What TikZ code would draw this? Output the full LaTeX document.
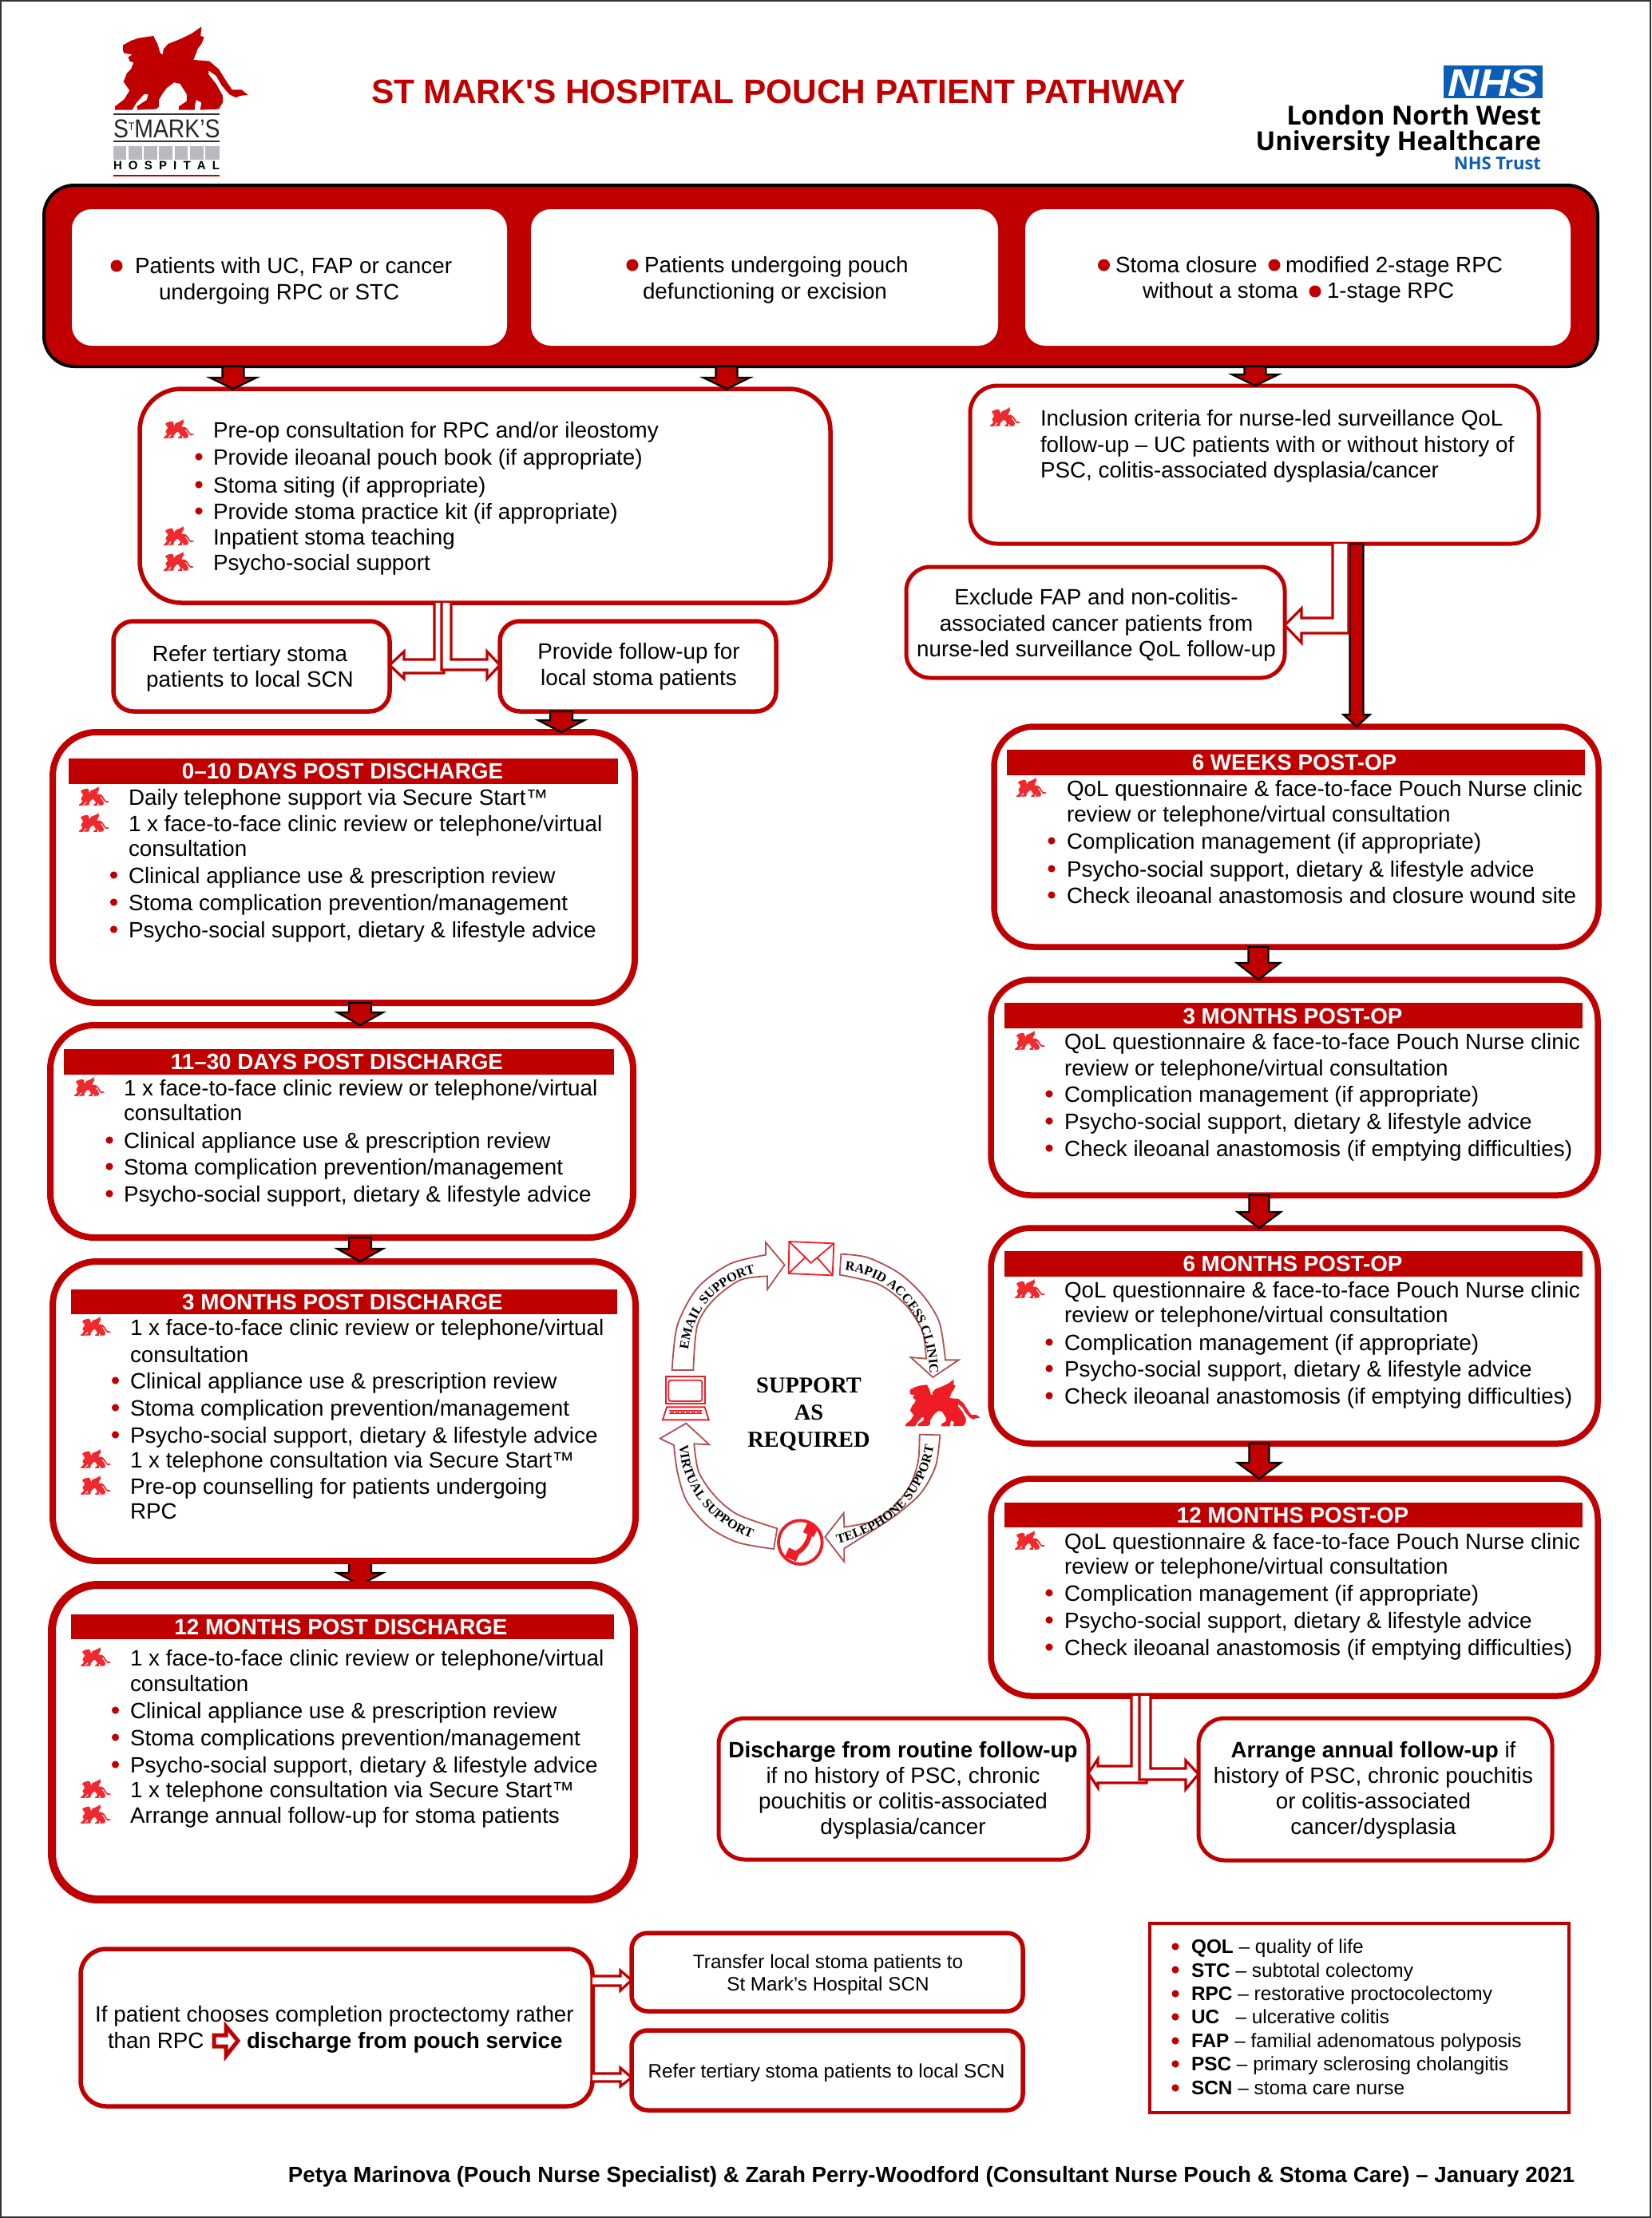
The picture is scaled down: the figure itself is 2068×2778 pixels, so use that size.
\documentclass[tikz,border=0pt]{standalone}
\usepackage{fontspec}
\usepackage{graphicx}
\setmainfont{Liberation Sans}
\newfontfamily\tnr{Liberation Serif}
\newfontfamily\frut{Open Sans}
\newfontfamily\plainsans{Liberation Sans}
\usetikzlibrary{calc,decorations.text}
\pgfdeclarelayer{under}
\pgfsetlayers{under,main}
\definecolor{rd}{HTML}{C00000}
\definecolor{minired}{HTML}{EE2A2E}
\definecolor{cyc}{HTML}{B05050}
\definecolor{vivid}{HTML}{EE1C25}
\definecolor{nhsblue}{HTML}{0B5EB5}
\definecolor{band}{HTML}{B8BABF}
\newcounter{tlc}
\tikzset{
  box/.style={draw=rd,fill=white,inner sep=0pt,outer sep=0pt},
  txt/.style={anchor=base west,inner sep=0pt,outer sep=0pt,font=\fontsize{13.9}{16}\selectfont,text=black},
  txc/.style={txt,anchor=base},
  txr/.style={txt,anchor=base east},
  hdtxt/.style={txc,text=white,font=\fontsize{13.9}{16}\selectfont\bfseries},
  small/.style={font=\fontsize{12.15}{14}\selectfont},
  hdbar/.style={fill=rd,draw=none,inner sep=0pt,outer sep=0pt},
  blockarrow/.style={draw=black,fill=rd,line width=1.2pt,line join=miter},
  hollow/.style={draw=rd,fill=white,line width=1.6pt,line join=miter},
  cyclearrow/.style={draw=cyc,fill=white,line width=0.9pt,line join=miter},
  icon/.style={draw=vivid,line width=0.9pt},
}
% box: name x1 y1 x2 y2 lw(px) radius(px) [extra]
\newcommand\bx[8][box]{%
  \pgfmathsetmacro\myw{(#5-#3)*0.5}\pgfmathsetmacro\myh{(#6-#4)*0.5}%
  \pgfmathsetmacro\myl{#7*0.5}\pgfmathsetmacro\myr{#8*0.5}%
  \node[#1,line width=\myl pt,minimum width=\myw pt,minimum height=\myh pt,rounded corners=\myr pt]
    (#2) at ({(#3+#5)/2},{(#4+#6)/2}) {};}
\newcommand\hdrbar[5]{%
  \pgfmathsetmacro\myw{(#4-#2)*0.5}\pgfmathsetmacro\myh{(#5-#3)*0.5}%
  \node[hdbar,minimum width=\myw pt,minimum height=\myh pt] (#1) at ({(#2+#4)/2},{(#3+#5)/2}) {};}
\newcommand\lnl[4][]{\stepcounter{tlc}\node[txt,#1] (t\arabic{tlc}) at (#2,#3) {#4};}
\newcommand\lnc[4][]{\stepcounter{tlc}\node[txc,#1] (t\arabic{tlc}) at (#2,#3) {#4};}
\newcommand\lnr[4][]{\stepcounter{tlc}\node[txr,#1] (t\arabic{tlc}) at (#2,#3) {#4};}
\newcommand\hd[3]{\stepcounter{tlc}\node[hdtxt] (t\arabic{tlc}) at (#1,#2) {#3};}
\newcommand\bul[3][4.6]{\fill[rd] (#2,#3) circle[radius=#1];}
\newcommand\lionshape{(70,95) -- (100,78) -- (130,68) -- (185,60) -- (190,72) -- (200,90) -- (210,125) -- (220,130) -- (222,110) -- (240,90) -- (290,70) -- (330,50) -- (365,25) -- (362,60) -- (375,65) -- (365,90) -- (350,110) -- (345,125) -- (335,150) -- (395,155) -- (430,185) -- (455,225) -- (480,262) -- (515,262) -- (540,282) -- (510,285) -- (495,292) -- (470,280) -- (440,245) -- (420,210) -- (392,190) -- (392,205) -- (420,240) -- (445,285) -- (445,310) -- (430,335) -- (360,338) -- (365,310) -- (345,300) -- (340,322) -- (340,338) -- (280,338) -- (280,325) -- (310,305) -- (310,280) -- (285,240) -- (262,235) -- (235,255) -- (220,275) -- (205,300) -- (205,325) -- (195,335) -- (125,338) -- (122,325) -- (160,300) -- (165,280) -- (150,278) -- (120,312) -- (105,338) -- (40,338) -- (40,325) -- (75,298) -- (95,265) -- (72,232) -- (85,200) -- (100,185) -- (110,160) -- (95,155) -- (90,140) -- (105,130) -- (75,125) -- (70,115) -- cycle}
\newcommand\lion[4]{\path[fill=#4,shift={(#1,#2)},scale=#3,shift={(-40,-25)}] \lionshape;}
\newcommand\minilion[2]{\lion{#1}{#2}{0.076}{minired}}
\newcommand\bline[4]{\bul{#1}{\the\numexpr#3-10\relax}\lnl{#2}{#3}{#4}}
\newcommand\lline[4]{\minilion{#1}{\the\numexpr#3-23\relax}\lnl{#2}{#3}{#4}}
% block arrow: from, to, x, half shaft, half head, head length (px)
\newcommand\blk[6]{%
  \coordinate (ax) at (#3,0);
  \draw[blockarrow] let \p1=(#1.south -| ax), \p2=(#2.north -| ax) in
    ({\x1-#4*0.5pt},\y1) -- ({\x1+#4*0.5pt},\y1) -- ({\x1+#4*0.5pt},{\y2+#6*0.5pt}) -- ({\x1+#5*0.5pt},{\y2+#6*0.5pt}) -- (\x2,\y2)
    -- ({\x1-#5*0.5pt},{\y2+#6*0.5pt}) -- ({\x1-#4*0.5pt},{\y2+#6*0.5pt}) -- cycle;}
\newcommand\arcfont{\fontsize{8.2}{10}\selectfont\tnr\bfseries}
\newcommand\arctext[5]{\path[postaction={decorate},decoration={text along path,text align=left,text={|\arcfont|#5}}] #1 .. controls #2 and #3 .. #4;}
\begin{document}
\begin{tikzpicture}[x=0.5pt,y=-0.5pt]
\useasboundingbox (0,0) rectangle (2068,2778);
\begin{pgfonlayer}{under}
\fill[white] (0,0) rectangle (2068,2778);
\end{pgfonlayer}
\draw[line width=1pt,draw=black!80] (1,1) rectangle (2067,2777);

% ---------- header ----------
\lion{144}{33.3}{0.3333}{rd}
\draw[line width=0.8pt,black!80] (142,143) -- (275,143) (142,177) -- (275,177);
\lnl[font=\fontsize{16.2}{18}\selectfont,text=black!85]{142}{172}{\scalebox{0.875}[1]{S\raisebox{4.2pt}{\fontsize{7}{8}\selectfont T}MARK'S}}
\foreach \a/\b in {35/85,93/143,150/200,208/258,266/316,324/374,382/435}
  \fill[band] ({130+\a/3},183) rectangle ({130+\b/3},200);
\lnl[font=\fontsize{7.5}{9}\selectfont\bfseries]{142}{213}{\makebox[66.5pt][s]{H\hfill O\hfill S\hfill P\hfill I\hfill T\hfill A\hfill L}}
\draw[line width=0.8pt,rd] (142,220) -- (275,220);

\lnl[font=\plainsans\fontsize{21.2}{24}\selectfont\bfseries,text=rd]{465}{129}{ST MARK'S HOSPITAL POUCH PATIENT PATHWAY}

\hdrbar{nhsbox}{1808}{82}{1932}{123}
\fill[nhsblue] (nhsbox.south west) rectangle (nhsbox.north east);
\lnc[font=\fontsize{24}{26}\selectfont\bfseries\itshape,text=white]{1870}{120}{\scalebox{1.12}[1]{NHS}}
\lnr[font=\frut\fontsize{16.4}{20}\selectfont\bfseries]{1930}{156}{London North West}
\lnr[font=\frut\fontsize{16.4}{20}\selectfont\bfseries]{1930}{188}{University Healthcare}
\lnr[font=\frut\fontsize{11}{13}\selectfont\bfseries,text=nhsblue]{1930}{213}{NHS Trust}

% ---------- top band ----------
\bx[box,draw=black,fill=rd]{top}{55}{232}{2001}{459}{4}{38}
\bx[box,draw=none]{topa}{90}{262}{635}{433}{1}{25}
\bx[box,draw=none]{topb}{665}{262}{1250}{433}{1}{25}
\bx[box,draw=none]{topc}{1284}{262}{1967}{433}{1}{25}
\bul[7.5]{146}{333}
\lnl{169}{342}{Patients with UC, FAP or cancer}
\lnl{199}{375}{undergoing RPC or STC}
\bul[7.5]{792}{332}
\lnl{807}{341}{Patients undergoing pouch}
\lnl{805}{374}{defunctioning or excision}
\bul[7.5]{1382.5}{332}
\lnl{1397}{341}{Stoma closure}
\bul[7.5]{1596}{332}
\lnl{1610}{341}{modified 2-stage RPC}
\lnl{1431}{373}{without a stoma}
\bul[7.5]{1647}{365}
\lnl{1662}{373}{1-stage RPC}

% ---------- left column ----------
\bx{preop}{175}{487}{1040}{755}{5.5}{52}
\lline{205}{267}{548}{Pre-op consultation for RPC and/or ileostomy}
\bline{249}{267}{582}{Provide ileoanal pouch book (if appropriate)}
\bline{249}{267}{617}{Stoma siting (if appropriate)}
\bline{249}{267}{650}{Provide stoma practice kit (if appropriate)}
\lline{205}{267}{682}{Inpatient stoma teaching}
\lline{205}{267}{714}{Psycho-social support}

\bx{refer}{142}{778}{488}{891}{5.5}{25}
\lnc{313}{828}{Refer tertiary stoma}
\lnc{313}{860}{patients to local SCN}
\bx{provide}{626}{778}{972}{891}{5.5}{25}
\lnc{800}{825}{Provide follow-up for}
\lnc{800}{858}{local stoma patients}

\bx{dayten}{66}{917}{795}{1256}{8}{55}
\hdrbar{dayhd}{86}{950}{774}{982}
\hd{429}{975}{0--10 DAYS POST DISCHARGE}
\lline{99}{161}{1008}{Daily telephone support via Secure Start™}
\lline{99}{161}{1041}{1 x face-to-face clinic review or telephone/virtual}
\lnl{161}{1072}{consultation}
\bline{142.5}{161}{1106}{Clinical appliance use \& prescription review}
\bline{142.5}{161}{1140}{Stoma complication prevention/management}
\bline{142.5}{161}{1174}{Psycho-social support, dietary \& lifestyle advice}

\bx{daythirty}{63}{1284}{793}{1550}{8}{55}
\hdrbar{thirtyhd}{80}{1314}{769}{1346}
\hd{422}{1339}{11--30 DAYS POST DISCHARGE}
\lline{93}{155}{1372}{1 x face-to-face clinic review or telephone/virtual}
\lnl{155}{1403}{consultation}
\bline{137}{155}{1438}{Clinical appliance use \& prescription review}
\bline{137}{155}{1471}{Stoma complication prevention/management}
\bline{137}{155}{1505}{Psycho-social support, dietary \& lifestyle advice}

\bx{threeL}{66}{1580}{796}{1955}{8}{55}
\hdrbar{threeLhd}{89}{1615}{773}{1646}
\hd{429}{1640}{3 MONTHS POST DISCHARGE}
\lline{101}{163}{1672}{1 x face-to-face clinic review or telephone/virtual}
\lnl{163}{1706}{consultation}
\bline{144.5}{163}{1739}{Clinical appliance use \& prescription review}
\bline{144.5}{163}{1773}{Stoma complication prevention/management}
\bline{144.5}{163}{1807}{Psycho-social support, dietary \& lifestyle advice}
\lline{101}{163}{1838}{1 x telephone consultation via Secure Start™}
\lline{101}{163}{1871}{Pre-op counselling for patients undergoing}
\lnl{163}{1902}{RPC}

\bx{twelveL}{65}{1985}{794}{2379}{10}{58}
\hdrbar{twelveLhd}{89}{2022}{769}{2053}
\hd{427}{2047}{12 MONTHS POST DISCHARGE}
\lline{101}{163}{2086}{1 x face-to-face clinic review or telephone/virtual}
\lnl{163}{2118}{consultation}
\bline{144.5}{163}{2152}{Clinical appliance use \& prescription review}
\bline{144.5}{163}{2186}{Stoma complications prevention/management}
\bline{144.5}{163}{2220}{Psycho-social support, dietary \& lifestyle advice}
\lline{101}{163}{2251}{1 x telephone consultation via Secure Start™}
\lline{101}{163}{2283}{Arrange annual follow-up for stoma patients}

% ---------- right column ----------
\bx{incl}{1215}{483}{1927}{681}{5}{34}
\lline{1240}{1303}{533}{Inclusion criteria for nurse-led surveillance QoL}
\lnl{1303}{566}{follow-up -- UC patients with or without history of}
\lnl{1303}{598}{PSC, colitis-associated dysplasia/cancer}

\bx{excl}{1135}{710}{1609}{849}{5}{30}
\lnc{1373}{757}{Exclude FAP and non-colitis-}
\lnc{1373}{790}{associated cancer patients from}
\lnc{1373}{822}{nurse-led surveillance QoL follow-up}

\bx{sixw}{1245}{910}{2002}{1186}{7.5}{50}
\hdrbar{sixwhd}{1261}{939}{1985}{971}
\hd{1621}{964}{6 WEEKS POST-OP}
\lline{1273}{1336}{997}{QoL questionnaire \& face-to-face Pouch Nurse clinic}
\lnl{1336}{1029}{review or telephone/virtual consultation}
\bline{1317}{1336}{1063}{Complication management (if appropriate)}
\bline{1317}{1336}{1098}{Psycho-social support, dietary \& lifestyle advice}
\bline{1317}{1336}{1131}{Check ileoanal anastomosis and closure wound site}

\bx{threeR}{1241}{1227}{2001}{1497}{7.5}{50}
\hdrbar{threeRhd}{1258}{1256}{1982}{1288}
\hd{1619}{1282}{3 MONTHS POST-OP}
\lline{1271}{1333}{1314}{QoL questionnaire \& face-to-face Pouch Nurse clinic}
\lnl{1333}{1347}{review or telephone/virtual consultation}
\bline{1314}{1333}{1380}{Complication management (if appropriate)}
\bline{1314}{1333}{1414}{Psycho-social support, dietary \& lifestyle advice}
\bline{1314}{1333}{1448}{Check ileoanal anastomosis (if emptying difficulties)}

\bx{sixR}{1241}{1538}{2001}{1808}{7.5}{50}
\hdrbar{sixRhd}{1258}{1567}{1982}{1599}
\hd{1619}{1592}{6 MONTHS POST-OP}
\lline{1271}{1333}{1625}{QoL questionnaire \& face-to-face Pouch Nurse clinic}
\lnl{1333}{1656}{review or telephone/virtual consultation}
\bline{1314}{1333}{1691}{Complication management (if appropriate)}
\bline{1314}{1333}{1724}{Psycho-social support, dietary \& lifestyle advice}
\bline{1314}{1333}{1758}{Check ileoanal anastomosis (if emptying difficulties)}

\bx{twelveR}{1241}{1852}{2001}{2124}{7.5}{50}
\hdrbar{twelveRhd}{1258}{1882}{1982}{1913}
\hd{1619}{1907}{12 MONTHS POST-OP}
\lline{1271}{1333}{1940}{QoL questionnaire \& face-to-face Pouch Nurse clinic}
\lnl{1333}{1971}{review or telephone/virtual consultation}
\bline{1314}{1333}{2005}{Complication management (if appropriate)}
\bline{1314}{1333}{2039}{Psycho-social support, dietary \& lifestyle advice}
\bline{1314}{1333}{2073}{Check ileoanal anastomosis (if emptying difficulties)}

\bx{discharge}{900}{2152}{1363}{2329}{5}{33}
\lnc[font=\fontsize{13.9}{16}\selectfont\bfseries]{1131}{2201}{Discharge from routine follow-up}
\lnc{1131}{2233}{if no history of PSC, chronic}
\lnc{1131}{2265}{pouchitis or colitis-associated}
\lnc{1131}{2297}{dysplasia/cancer}
\bx{annual}{1501}{2152}{1944}{2330}{5}{33}
\lnc{1720}{2201}{\textbf{Arrange annual follow-up} if}
\lnc{1720}{2233}{history of PSC, chronic pouchitis}
\lnc{1720}{2265}{or colitis-associated}
\lnc{1720}{2297}{cancer/dysplasia}

% ---------- bottom ----------
\bx{choice}{101}{2441}{742}{2638}{5.5}{32}
\lnc{419}{2532}{If patient chooses completion proctectomy rather}
\lnl{135}{2565}{than RPC}
\lnl[font=\fontsize{13.9}{16}\selectfont\bfseries]{309}{2565}{discharge from pouch service}
\draw[draw=rd,fill=white,line width=2.5pt,line join=miter] (268,2549) -- (283,2549) -- (283,2538) -- (298,2556) -- (283,2575) -- (283,2563) -- (268,2563) -- cycle;
\bx{transfer}{791}{2421}{1281}{2519}{5.5}{20}
\lnc[small]{1037}{2465}{Transfer local stoma patients to}
\lnc[small]{1037}{2493}{St Mark’s Hospital SCN}
\bx{referb}{791}{2543}{1281}{2643}{5.5}{20}
\lnc[small]{1035}{2602}{Refer tertiary stoma patients to local SCN}

\bx[box,line join=miter]{legend}{1440}{2409}{1965}{2646}{3.5}{0}
\bul{1472}{2438}\lnl[font=\fontsize{12.2}{14}\selectfont]{1492}{2446}{\textbf{QOL} -- quality of life}
\bul{1472}{2467}\lnl[font=\fontsize{12.2}{14}\selectfont]{1492}{2476}{\textbf{STC} -- subtotal colectomy}
\bul{1472}{2497}\lnl[font=\fontsize{12.2}{14}\selectfont]{1492}{2505}{\textbf{RPC} -- restorative proctocolectomy}
\bul{1472}{2526}\lnl[font=\fontsize{12.2}{14}\selectfont]{1492}{2534}{\textbf{UC}\ \ \ -- ulcerative colitis}
\bul{1472}{2556}\lnl[font=\fontsize{12.2}{14}\selectfont]{1492}{2564}{\textbf{FAP} -- familial adenomatous polyposis}
\bul{1472}{2585}\lnl[font=\fontsize{12.2}{14}\selectfont]{1492}{2593}{\textbf{PSC} -- primary sclerosing cholangitis}
\bul{1472}{2615}\lnl[font=\fontsize{12.2}{14}\selectfont]{1492}{2623}{\textbf{SCN} -- stoma care nurse}

\lnr[font=\fontsize{13.85}{16}\selectfont\bfseries]{1972}{2733}{Petya Marinova (Pouch Nurse Specialist) \& Zarah Perry-Woodford (Consultant Nurse Pouch \& Stoma Care) -- January 2021}

% ---------- block arrows ----------
\blk{top}{preop}{292}{13.5}{29}{14}
\blk{top}{preop}{910}{13.5}{29}{14}
\blk{top}{incl}{1572}{13.5}{29}{14}
\blk{provide}{dayten}{703}{14}{29}{15}
\blk{dayten}{daythirty}{451}{14}{28.5}{16}
\blk{daythirty}{threeL}{451}{14}{28.5}{16}
\begin{pgfonlayer}{under}
\blk{threeL}{twelveL}{451}{14}{28.5}{15}
\end{pgfonlayer}
\blk{incl}{sixw}{1699}{8.5}{16.5}{15}
\blk{sixw}{threeR}{1576}{12.5}{27}{21}
\blk{threeR}{sixR}{1577}{12.5}{27}{20}
\blk{sixR}{twelveR}{1577}{12.5}{27}{20}

% ---------- hollow branching connectors ----------
\draw[hollow] (preop.south -| 556,0) -- (556,843) -- (506,843) -- (506,850) -- (refer.east |- 0,833) -- (506,816) -- (506,826) -- (544,826) -- (preop.south -| 544,0);
\draw[hollow] (preop.south -| 553,0) -- (553,839) -- (610,839) -- (610,850) -- (provide.west |- 0,833) -- (610,816) -- (610,826) -- (565,826) -- (preop.south -| 565,0);
\draw[hollow] (incl.south -| 1669,0) -- (1669,774) -- (1630,774) -- (1630,762) -- (excl.east |- 0,783) -- (1630,805) -- (1630,793) -- (1689,793) -- (incl.south -| 1689,0);
\draw[hollow] (twelveR.south -| 1436,0) -- (1436,2233) -- (1375,2233) -- (1375,2239) -- (discharge.east |- 0,2221) -- (1375,2203) -- (1375,2212) -- (1417,2212) -- (twelveR.south -| 1417,0);
\draw[hollow] (twelveR.south -| 1427,0) -- (1427,2229) -- (1485,2229) -- (1485,2241) -- (annual.west |- 0,2222) -- (1485,2205) -- (1485,2215) -- (1441,2215) -- (twelveR.south -| 1441,0);
\draw[hollow] (choice.east |- 0,2475) -- (777,2475) -- (777,2468) -- (transfer.west |- 0,2480) -- (777,2493) -- (777,2487) -- (choice.east |- 0,2487);
\draw[hollow] (choice.east |- 0,2597) -- (777,2597) -- (777,2590) -- (referb.west |- 0,2602) -- (777,2613) -- (777,2607) -- (choice.east |- 0,2607);

% ---------- support cycle ----------
\begin{scope}[shift={(780,1500)},scale=0.33333]
\draw[cyclearrow] (185,648) -- plot[smooth] coordinates {(185,648) (205,480) (280,340) (400,250) (537,215)} -- (537,168) -- (608,253) -- (543,345) -- plot[smooth] coordinates {(543,295) (440,310) (340,385) (280,480) (265,648)} -- cycle;
\draw[cyclearrow] (820,212) -- plot[smooth] coordinates {(820,212) (920,225) (1040,285) (1130,370) (1190,470) (1212,610)} -- (1262,610) -- (1165,675) -- (1082,600) -- plot[smooth] coordinates {(1140,605) (1125,500) (1060,400) (960,325) (815,290)} -- cycle;
\draw[cyclearrow] (1192,892) -- plot[smooth] coordinates {(1192,892) (1175,1010) (1120,1110) (1030,1190) (940,1250) (832,1318)} -- (832,1368) -- (760,1275) -- (830,1185) -- plot[smooth] coordinates {(832,1238) (940,1215) (1020,1160) (1080,1080) (1110,990) (1115,890)} -- cycle;
\draw[cyclearrow] (567,1320) -- plot[smooth] coordinates {(567,1320) (430,1295) (320,1235) (240,1140) (205,1030) (192,930)} -- (140,905) -- (238,848) -- (325,928) -- (268,925) -- plot[smooth] coordinates {(268,925) (285,1030) (345,1120) (430,1190) (580,1243)} -- cycle;
% envelope
\draw[icon] (625,165) -- (793,172) -- (788,292) -- (623,285) -- cycle;
\draw[icon] (628,168) -- (707,245) -- (790,175) (625,283) -- (685,225) (787,290) -- (730,225);
% computer
\draw[icon] (162,673) rectangle (310,775);
\draw[icon,rounded corners=1.5pt] (172,686) rectangle (298,765);
\draw[icon] (165,787) -- (308,787) -- (323,835) -- (150,835) -- cycle;
\draw[icon,line width=0.6pt] (175,800) -- (298,800) (175,812) -- (298,812);
\draw[icon,line width=0.6pt] (175,800) -- (195,812) -- (215,800) -- (235,812) -- (255,800) -- (275,812) -- (298,800);
\draw[icon,line width=0.6pt] (175,812) -- (195,800) -- (215,812) -- (235,800) -- (255,812) -- (275,800) -- (298,812);
% phone
\draw[icon,line width=1.9pt] (667,1295) circle[radius=82];
\draw[vivid,line width=3pt,line cap=round] (705,1250) .. controls (700,1300) and (670,1335) .. (635,1340);
\fill[vivid,rotate around={-25:(705,1250)}] (683,1228) rectangle (727,1268);
\fill[vivid,rotate around={-25:(635,1340)}] (615,1322) rectangle (660,1358);
\end{scope}
\lion{1134}{1727.7}{0.187}{vivid}
\arctext{(862,1690)}{(868,1636)}{(905,1598)}{(968,1590)}{EMAIL SUPPORT}
\arctext{(1058,1591)}{(1118,1597)}{(1170,1650)}{(1164,1740)}{RAPID ACCESS CLINIC}
\arctext{(1049,1933)}{(1125,1915)}{(1172,1860)}{(1172,1780)}{TELEPHONE SUPPORT}
\arctext{(851,1810)}{(853,1865)}{(895,1922)}{(970,1933)}{VIRTUAL SUPPORT}
\lnc[font=\tnr\fontsize{14.2}{16}\selectfont\bfseries]{1013}{1744}{SUPPORT}
\lnc[font=\tnr\fontsize{14.2}{16}\selectfont\bfseries]{1013}{1778}{AS}
\lnc[font=\tnr\fontsize{14.2}{16}\selectfont\bfseries]{1013}{1812}{REQUIRED}
\end{tikzpicture}
\end{document}
